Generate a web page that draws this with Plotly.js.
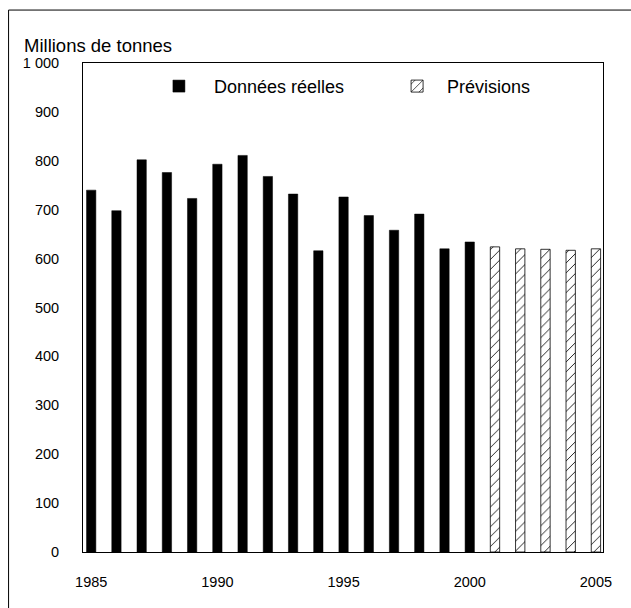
<!DOCTYPE html>
<html>
<head>
<meta charset="utf-8">
<script src="https://cdn.plot.ly/plotly-3.0.1.min.js"></script>
<style>html,body{margin:0;padding:0;background:#fff;}#chart{width:631px;height:608px;}</style>
</head>
<body>
<div id="chart"></div>
<script>
// Data
var actualYears = [1985,1986,1987,1988,1989,1990,1991,1992,1993,1994,1995,1996,1997,1998,1999,2000];
var actualValues = [740,698,802,776,723,793,811,768,732,616,726,688,658,691,620,634];
var forecastYears = [2001,2002,2003,2004,2005];
var forecastValues = [624,620,619,617,620];
var xTickVals = [1985,1990,1995,2000,2005];
var xTickText = ['1985','1990','1995','2000','2005'];
var yTickVals = [0,100,200,300,400,500,600,700,800,900,1000];
var yTickText = ['0','100','200','300','400','500','600','700','800','900','1 000'];
var yAxisLabel = 'Millions de tonnes';
var nameActual = 'Données réelles';
var nameForecast = 'Prévisions';

var FONT = 'Liberation Sans, Arial, sans-serif';

var traces = [
  {
    type: 'bar', x: actualYears, y: actualValues,
    name: '\u00a0\u00a0\u00a0' + nameActual,
    width: 0.37,
    marker: {color: '#000', line: {color: '#000', width: 0.5}},
    legend: 'legend', hoverinfo: 'x+y'
  },
  {
    type: 'bar', x: forecastYears, y: forecastValues,
    name: '\u00a0\u00a0' + nameForecast,
    width: 0.37,
    marker: {color: '#fff', line: {color: '#000', width: 0.8},
      pattern: {shape: '/', fgcolor: '#000', bgcolor: '#fff', size: 7, solidity: 0.12}},
    legend: 'legend2', hoverinfo: 'x+y'
  }
];

var layout = {
  width: 631, height: 608,
  margin: {l: 82.5, r: 28, t: 63, b: 55.5},
  paper_bgcolor: '#fff', plot_bgcolor: '#fff',
  font: {family: FONT, color: '#000', size: 14},
  showlegend: true,
  xaxis: {
    range: [1984.675, 2005.28],
    tickvals: xTickVals, ticktext: xTickText,
    ticks: 'outside', ticklen: 17, tickcolor: 'rgba(0,0,0,0)',
    tickfont: {size: 14.5, family: FONT},
    showline: true, linecolor: '#000', linewidth: 1, mirror: true,
    showgrid: false, zeroline: false
  },
  yaxis: {
    range: [0, 1000],
    tickvals: yTickVals, ticktext: yTickText,
    ticks: 'outside', ticklen: 20, tickcolor: 'rgba(0,0,0,0)',
    tickfont: {size: 14.5, family: FONT},
    showline: true, linecolor: '#000', linewidth: 1, mirror: true,
    showgrid: false, zeroline: false
  },
  legend: {
    x: 0.146, y: 0.99, xanchor: 'left', yanchor: 'top',
    bgcolor: 'rgba(0,0,0,0)', borderwidth: 0,
    font: {size: 18, family: FONT}
  },
  legend2: {
    x: 0.604, y: 0.99, xanchor: 'left', yanchor: 'top',
    bgcolor: 'rgba(0,0,0,0)', borderwidth: 0,
    font: {size: 18, family: FONT}
  },
  annotations: [
    {text: yAxisLabel, xref: 'paper', yref: 'paper',
     x: (21 - 82.5) / 520.5, y: (552.5 - 45) / 489.5,
     xanchor: 'left', yanchor: 'middle', showarrow: false,
     font: {size: 18.5, family: FONT, color: '#000'}}
  ],
  shapes: [
    {type: 'rect', xref: 'paper', yref: 'paper',
     x0: (8 - 82.5) / 520.5, x1: (650 - 82.5) / 520.5,
     y0: (552.5 - 640) / 489.5, y1: (552.5 - 10) / 489.5,
     line: {color: '#000', width: 1}, fillcolor: 'rgba(0,0,0,0)', layer: 'below'}
  ]
};

Plotly.newPlot('chart', traces, layout, {displayModeBar: false, staticPlot: true});
</script>
</body>
</html>
